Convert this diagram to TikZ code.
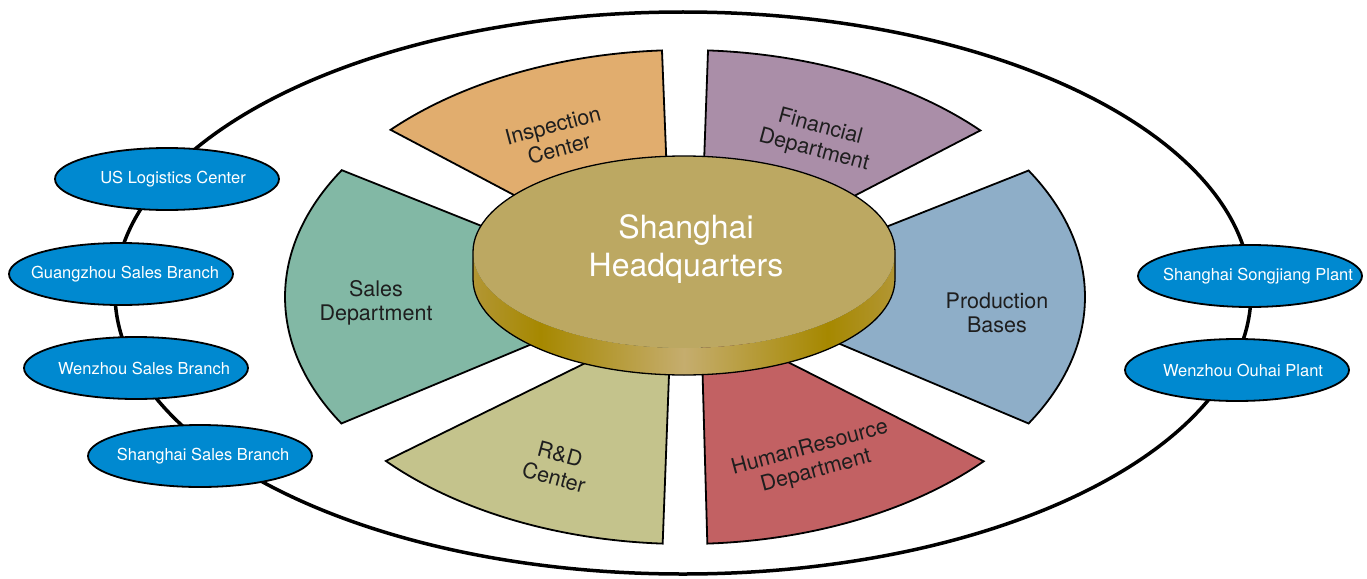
\documentclass[tikz,border=0pt]{standalone}
\usepackage{fontspec}
\setmainfont{TeX Gyre Heros}
\usetikzlibrary{calc,shapes.geometric}
\definecolor{cInsp}{RGB}{225,173,110}
\definecolor{cFin}{RGB}{170,142,168}
\definecolor{cSales}{RGB}{130,184,165}
\definecolor{cProd}{RGB}{142,174,200}
\definecolor{cRD}{RGB}{196,195,140}
\definecolor{cHR}{RGB}{194,97,99}
\definecolor{cTop}{RGB}{188,168,98}
\definecolor{cBlue}{RGB}{0,137,208}
\definecolor{labelc}{RGB}{30,30,30}
\definecolor{sideEdge}{RGB}{178,150,52}
\definecolor{sideDark}{RGB}{166,136,0}
\definecolor{sideLight}{RGB}{197,173,110}
\pgfdeclarehorizontalshading{diskside}{100bp}{color(0bp)=(sideEdge); color(25bp)=(sideEdge); color(33bp)=(sideDark); color(50bp)=(sideLight); color(67bp)=(sideDark); color(75bp)=(sideEdge); color(100bp)=(sideEdge)}
\begin{document}
\begin{tikzpicture}[x=1pt,y=-1pt,
  sector/.style={draw=black, line width=1.8pt, line join=miter},
  seclabel/.style={font=\fontsize{21.5}{24}\selectfont, text=labelc, align=center, inner sep=0pt},
  blueell/.style={ellipse, draw=black, line width=1.8pt, fill=cBlue, minimum width=224pt, minimum height=62pt, inner sep=0pt},
  bluetxt/.style={font=\fontsize{16.5}{19}\selectfont, text=white, inner sep=0pt},
  hqtxt/.style={font=\fontsize{32}{38}\selectfont, text=white, align=center, inner sep=0pt}]
\useasboundingbox (0,0) rectangle (1367,578);
% outer ring
\draw[line width=3.5pt] (683,293) ellipse [x radius=568, y radius=281];
% blue ellipses
\node[blueell] (us) at (167,179) {};
\node[bluetxt] (ust) at ($(us.center)+(6,0)$) {US Logistics Center};
\node[blueell] (gz) at (121,274) {};
\node[bluetxt] (gzt) at ($(gz.center)+(4,0)$) {Guangzhou Sales Branch};
\node[blueell] (wz) at (136,368) {};
\node[bluetxt] (wzt) at ($(wz.center)+(8,0)$) {Wenzhou Sales Branch};
\node[blueell] (sh) at (200,456) {};
\node[bluetxt] (sht) at ($(sh.center)+(3,0)$) {Shanghai Sales Branch};
\node[blueell] (sj) at (1250,276) {};
\node[bluetxt] (sjt) at ($(sj.center)+(8,0)$) {Shanghai Songjiang Plant};
\node[blueell] (oh) at (1237,370) {};
\node[bluetxt] (oht) at ($(oh.center)+(6,0)$) {Wenzhou Ouhai Plant};
% sectors
\def\cx{685}\def\cy{297}\def\rx{400}\def\ry{247}
\filldraw[sector, fill=cInsp] (671,278) -- ({\cx+\rx*cos(-137.4)},{\cy+\ry*sin(-137.4)}) arc[start angle=-137.4, end angle=-93.3, x radius=\rx, y radius=\ry] -- cycle;
\filldraw[sector, fill=cFin] (700,276) -- ({\cx+\rx*cos(-86.7)},{\cy+\ry*sin(-86.7)}) arc[start angle=-86.7, end angle=-42.4, x radius=\rx, y radius=\ry] -- cycle;
\filldraw[sector, fill=cProd] (719,293) -- ({\cx+\rx*cos(-30.8)},{\cy+\ry*sin(-30.8)}) arc[start angle=-30.8, end angle=30.8, x radius=\rx, y radius=\ry] -- cycle;
\filldraw[sector, fill=cHR] (701,318) -- ({\cx+\rx*cos(41.7)},{\cy+\ry*sin(41.7)}) arc[start angle=41.7, end angle=86.8, x radius=\rx, y radius=\ry] -- cycle;
\filldraw[sector, fill=cRD] (671,321) -- ({\cx+\rx*cos(93.2)},{\cy+\ry*sin(93.2)}) arc[start angle=93.2, end angle=138.4, x radius=\rx, y radius=\ry] -- cycle;
\filldraw[sector, fill=cSales] (652,294) -- ({\cx+\rx*cos(149.2)},{\cy+\ry*sin(149.2)}) arc[start angle=149.2, end angle=210.9, x radius=\rx, y radius=\ry] -- cycle;
% sector labels
\node[seclabel, rotate=15] (insp) at (556,137) {Inspection\\Center};
\node[seclabel, rotate=-15] (fin) at (817,139) {Financial\\Department};
\node[seclabel] (sales) at (376,303) {Sales\\Department};
\node[seclabel] (prod) at (997,313) {Production\\Bases};
\node[seclabel, rotate=-15] (rd) at (557,466) {R\&D\\Center};
\node[seclabel, rotate=15] (hr) at (813,460) {HumanResource\\Department};
% central disk
\fill[shading=diskside] (473,252) -- (473,279) arc[start angle=180, end angle=0, x radius=211, y radius=96] -- (895,252) arc[start angle=0, end angle=180, x radius=211, y radius=96] -- cycle;
\fill[cTop] (684,252) ellipse [x radius=211, y radius=96];
\draw[line width=1.3pt] (473,252) arc[start angle=180, end angle=360, x radius=211, y radius=96] -- (895,279) arc[start angle=0, end angle=180, x radius=211, y radius=96] -- cycle;
\node[hqtxt] (hq) at (686,249) {Shanghai\\Headquarters};
\end{tikzpicture}
\end{document}
